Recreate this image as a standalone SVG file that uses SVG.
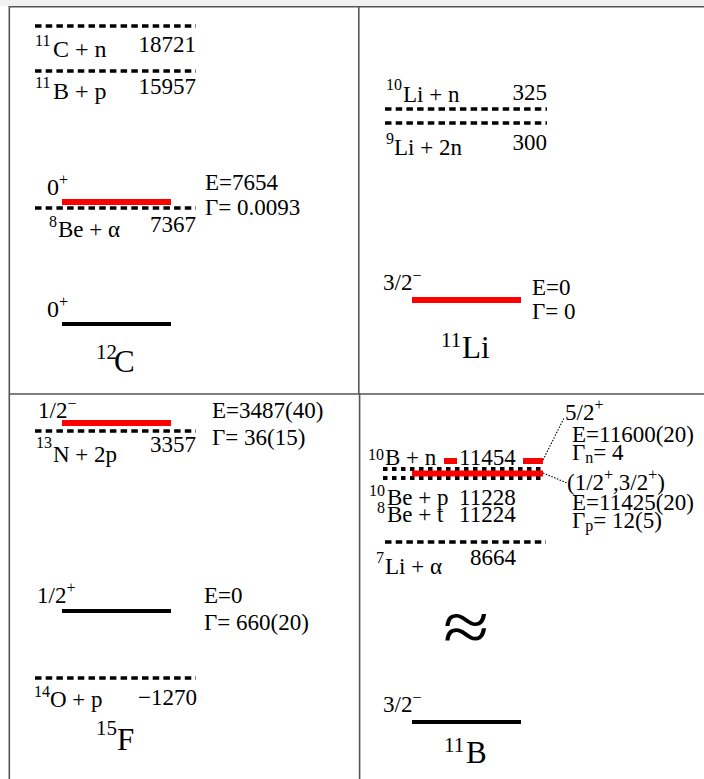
<svg xmlns="http://www.w3.org/2000/svg" width="704" height="779" viewBox="0 0 704 779" font-family="'Liberation Serif','Times New Roman',serif">
<style>
text{font-family:"Liberation Serif","Times New Roman",serif;font-size:23px;fill:#000}
.sup{font-size:16px}
.big{font-size:31px}
.bsup{font-size:21px}
.frame{stroke:#555;stroke-width:1.6;fill:none}
.dash{stroke:#000;stroke-width:3.5;stroke-dasharray:6.5 4.2;fill:none}
.sq{stroke:#000;stroke-width:4;stroke-dasharray:4.5 4.5;fill:none}
.red{stroke:#ff0000;stroke-width:6;fill:none}
.blk{stroke:#000;stroke-width:4;fill:none}
.dot{stroke:#000;stroke-width:1.1;stroke-dasharray:1.5 1.5;fill:none}
.end{text-anchor:end}
</style>
<rect x="0" y="0" width="704" height="779" fill="#fff"/>
<rect x="0" y="0" width="704" height="6" fill="#f1f1f1"/>
<g id="frame">
<line class="frame" x1="9" y1="6.8" x2="704" y2="6.8"/>
<line class="frame" x1="9.3" y1="6" x2="9.3" y2="779"/>
<line class="frame" x1="358.8" y1="6" x2="358.8" y2="394"/>
<line class="frame" x1="359.6" y1="394" x2="359.6" y2="779"/>
<line class="frame" x1="9" y1="394" x2="704" y2="394"/>
</g>
<!-- 12C panel -->
<g id="c12-11Cn">
<line class="dash" x1="35" y1="26" x2="196" y2="26"/>
<text x="35" y="46"><tspan class="sup">11</tspan><tspan x="53" y="57" style="font-size:24px">C + n</tspan></text>
<text class="end" x="196" y="52">18721</text>
</g>
<g id="c12-11Bp">
<line class="dash" x1="35" y1="71" x2="196" y2="71"/>
<text x="35" y="88"><tspan class="sup">11</tspan><tspan x="53" y="99" style="font-size:24px">B + p</tspan></text>
<text class="end" x="196" y="94">15957</text>
</g>
<g id="c12-hoyle">
<text x="47" y="195" style="font-size:24px">0<tspan class="sup" dy="-10">+</tspan></text>
<line class="dash" x1="35" y1="208" x2="196" y2="208"/>
<line class="red" x1="62" y1="202" x2="171" y2="202"/>
<text x="49" y="227"><tspan class="sup">8</tspan><tspan x="58" y="237">Be + α</tspan></text>
<text class="end" x="196" y="232">7367</text>
<text x="205" y="190">E=7654</text>
<text x="205" y="215">Γ= 0.0093</text>
</g>
<g id="c12-gs">
<text x="47" y="317" style="font-size:24px">0<tspan class="sup" dy="-10">+</tspan></text>
<line class="blk" x1="62" y1="324" x2="171" y2="324"/>
<text x="96" y="359"><tspan class="bsup">12</tspan><tspan class="big" x="114" y="372">C</tspan></text>
</g>
<!-- 11Li panel -->
<g id="li11-10Lin">
<text x="386" y="90"><tspan class="sup">10</tspan><tspan x="403" y="102">Li + n</tspan></text>
<text class="end" x="547" y="100">325</text>
<line class="dash" x1="385" y1="109" x2="547" y2="109"/>
</g>
<g id="li11-9Li2n">
<line class="dash" x1="385" y1="123" x2="547" y2="123"/>
<text x="386" y="144"><tspan class="sup">9</tspan><tspan x="394" y="155">Li + 2n</tspan></text>
<text class="end" x="547" y="150">300</text>
</g>
<g id="li11-gs">
<text x="383" y="290">3/2<tspan class="sup" dy="-9">−</tspan></text>
<line class="red" x1="412" y1="300" x2="521" y2="300"/>
<text x="532" y="295">E=0</text>
<text x="532" y="319">Γ= 0</text>
<text x="441" y="347"><tspan class="bsup">11</tspan><tspan class="big" x="462" y="358">Li</tspan></text>
</g>
<!-- 15F panel -->
<g id="f15-excited">
<text x="38" y="418">1/2<tspan class="sup" dy="-9">−</tspan></text>
<line class="dash" x1="35" y1="431" x2="196" y2="431"/>
<line class="red" x1="62" y1="423" x2="171" y2="423"/>
<text x="36" y="448"><tspan class="sup">13</tspan><tspan x="53" y="462">N + 2p</tspan></text>
<text class="end" x="196" y="452">3357</text>
<text x="212" y="418">E=3487(40)</text>
<text x="212" y="445">Γ= 36(15)</text>
</g>
<g id="f15-gs">
<text x="37" y="603">1/2<tspan class="sup" dy="-10">+</tspan></text>
<line class="blk" x1="62" y1="611" x2="171" y2="611"/>
<text x="204" y="603">E=0</text>
<text x="204" y="630">Γ= 660(20)</text>
</g>
<g id="f15-14Op">
<line class="dash" x1="35" y1="678" x2="196" y2="678"/>
<text x="34" y="697"><tspan class="sup">14</tspan><tspan x="50" y="707">O + p</tspan></text>
<text class="end" x="197" y="705">−1270</text>
<text x="96" y="735"><tspan class="bsup">15</tspan><tspan class="big" x="117" y="750">F</tspan></text>
</g>
<!-- 11B panel -->
<g id="b11-thresholds">
<text x="368" y="460"><tspan class="sup">10</tspan><tspan x="385" y="465">B + n</tspan></text>
<text x="459" y="465">11454</text>
<line class="sq" x1="383" y1="469" x2="544" y2="469"/>
<line class="sq" x1="383" y1="478" x2="544" y2="478"/>
<text x="369" y="496"><tspan class="sup">10</tspan><tspan x="387" y="505">Be + p</tspan></text>
<text x="459" y="505">11228</text>
<text x="377" y="513"><tspan class="sup">8</tspan><tspan x="387" y="522">Be + t</tspan></text>
<text x="459" y="522">11224</text>
</g>
<g id="b11-52">
<line class="red" x1="444" y1="461" x2="457" y2="461"/>
<line class="red" x1="523" y1="461" x2="543" y2="461"/>
<text x="565" y="420">5/2<tspan class="sup" dy="-10">+</tspan></text>
<text x="572" y="442">E=11600(20)</text>
<text x="572" y="460">Γ<tspan class="sup" dy="3">n</tspan><tspan dy="-3">= 4</tspan></text>
</g>
<g id="b11-12">
<line class="red" x1="412" y1="473.5" x2="543" y2="473.5"/>
<text x="567" y="490">(1/2<tspan class="sup" dy="-10">+</tspan><tspan dy="10">,3/2</tspan><tspan class="sup" dy="-10">+</tspan><tspan dy="10">)</tspan></text>
<text x="572" y="510">E=11425(20)</text>
<text x="572" y="528">Γ<tspan class="sup" dy="3">p</tspan><tspan dy="-3">= 12(5)</tspan></text>
</g>
<g id="b11-7Lia">
<line class="dash" x1="385" y1="542" x2="546" y2="542"/>
<text x="376" y="563"><tspan class="sup">7</tspan><tspan x="385" y="574">Li + α</tspan></text>
<text x="470" y="565">8664</text>
</g>
<g id="b11-break">
<text transform="translate(443,651) scale(1.17,1)" x="0" y="0" style="font-size:72px">≈</text>
</g>
<g id="b11-gs">
<text x="383" y="712">3/2<tspan class="sup" dy="-9">−</tspan></text>
<line class="blk" x1="412" y1="722" x2="521" y2="722"/>
<text x="444" y="752"><tspan class="bsup">11</tspan><tspan class="big" x="466" y="763">B</tspan></text>
</g>
<g id="connectors">
<polyline class="dot" points="543,460 564,418"/>
<polyline class="dot" points="543,473 567,483"/>
</g>
</svg>
